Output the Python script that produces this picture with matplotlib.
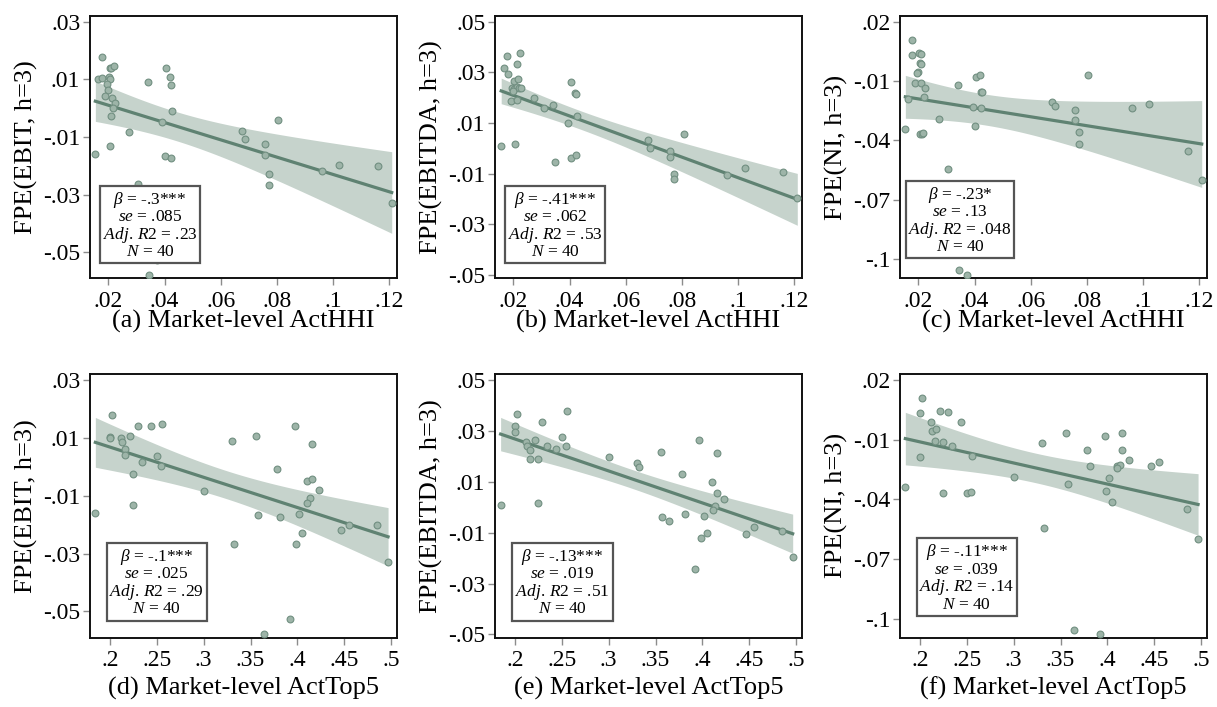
import numpy as np
import matplotlib
matplotlib.use("Agg")
import matplotlib.pyplot as plt
from matplotlib.patches import Rectangle

plt.rcParams["font.family"] = ["Liberation Serif", "DejaVu Serif"]
plt.rcParams["mathtext.fontset"] = "custom"
plt.rcParams["mathtext.rm"] = "Liberation Serif"
plt.rcParams["mathtext.it"] = "Liberation Serif:italic"

# market-level concentration vs. forecast errors (40 markets)
ebit_hhi_x = [0.0176, 0.0164, 0.0177, 0.0206, 0.0211, 0.0221, 0.0202, 0.0206, 0.0194, 0.0199,
              0.0188, 0.0214, 0.0224, 0.0218, 0.0209, 0.0205, 0.0154, 0.0272, 0.0340, 0.0306,
              0.0346, 0.0404, 0.0418, 0.0422, 0.0425, 0.0392, 0.0402, 0.0423, 0.0677, 0.0686,
              0.0804, 0.0758, 0.0758, 0.0771, 0.0771, 0.0960, 0.1022, 0.1158, 0.1208, 0.0373]
ebit_hhi_y = [0.0179, 0.0101, 0.0105, 0.0139, 0.0140, 0.0146, 0.0107, 0.0100, 0.0085, 0.0063,
              0.0041, 0.0036, 0.0017, 0.0002, -0.0026, -0.0131, -0.0159, -0.0082, 0.0092, -0.0263,
              -0.0579, 0.0140, 0.0108, 0.0080, -0.0009, -0.0049, -0.0167, -0.0172, -0.0079, -0.0107,
              -0.0041, -0.0125, -0.0163, -0.0229, -0.0267, -0.0219, -0.0199, -0.0200, -0.0328, -0.0527]

ebitda_hhi_x = [0.0157, 0.0167, 0.0179, 0.0180, 0.0224, 0.0212, 0.0204, 0.0218, 0.0195, 0.0204,
                0.0214, 0.0221, 0.0227, 0.0200, 0.0192, 0.0213, 0.0207, 0.0275, 0.0309, 0.0343,
                0.0349, 0.0395, 0.0406, 0.0420, 0.0424, 0.0427, 0.0404, 0.0424, 0.0679, 0.0688,
                0.0807, 0.0759, 0.0759, 0.0772, 0.0773, 0.0961, 0.1023, 0.1159, 0.1210, 0.0373]
ebitda_hhi_y = [0.0009, 0.0318, 0.0366, 0.0293, 0.0378, 0.0334, 0.0266, 0.0275, 0.0239, 0.0233,
                0.0241, 0.0238, 0.0238, 0.0228, 0.0188, 0.0191, 0.0017, 0.0199, 0.0158, 0.0172,
                -0.0053, 0.0099, 0.0261, 0.0220, 0.0213, 0.0129, -0.0038, -0.0028, 0.0033, 0.0001,
                0.0055, -0.0011, -0.0034, -0.0100, -0.0121, -0.0104, -0.0078, -0.0093, -0.0195, -0.0243]

ni_hhi_x = [0.0176, 0.0177, 0.0201, 0.0209, 0.0205, 0.0208, 0.0200, 0.0194, 0.0189, 0.0211,
            0.0224, 0.0221, 0.0164, 0.0154, 0.0206, 0.0213, 0.0218, 0.0272, 0.0340, 0.0307,
            0.0346, 0.0373, 0.0404, 0.0419, 0.0422, 0.0427, 0.0393, 0.0423, 0.0403, 0.0677,
            0.0686, 0.0804, 0.0758, 0.0758, 0.0772, 0.0771, 0.0960, 0.1022, 0.1158, 0.1208]
ni_hhi_y = [0.0109, 0.0032, 0.0042, 0.0038, -0.0010, -0.0014, -0.0052, -0.0061, -0.0108, -0.0111,
            -0.0135, -0.0182, -0.0189, -0.0340, -0.0369, -0.0367, -0.0364, -0.0291, -0.0120, -0.0544,
            -0.1054, -0.1079, -0.0081, -0.0069, -0.0153, -0.0155, -0.0233, -0.0236, -0.0325, -0.0204,
            -0.0227, -0.0068, -0.0248, -0.0295, -0.0359, -0.0416, -0.0236, -0.0216, -0.0451, -0.0599]

ebit_top5_x = [0.1844, 0.2025, 0.2000, 0.2000, 0.2114, 0.2128, 0.2213, 0.2163, 0.2156, 0.2295,
               0.2437, 0.2554, 0.2497, 0.2337, 0.2241, 0.2547, 0.2241, 0.3005, 0.3299, 0.3321,
               0.3562, 0.3576, 0.3640, 0.3782, 0.3810, 0.3917, 0.3970, 0.3988, 0.4020, 0.4048,
               0.4102, 0.4155, 0.4155, 0.4130, 0.4105, 0.4233, 0.4467, 0.4549, 0.4854, 0.4968]
ebit_top5_y = [-0.0159, 0.0178, 0.0104, 0.0101, 0.0099, 0.0087, 0.0108, 0.0063, 0.0041, 0.0142,
               0.0140, 0.0147, 0.0037, 0.0017, -0.0026, 0.0002, -0.0131, -0.0083, 0.0091, -0.0266,
               0.0108, -0.0167, -0.0579, -0.0007, -0.0172, -0.0527, 0.0141, -0.0267, -0.0163, -0.0229,
               -0.0049, -0.0041, 0.0080, -0.0107, -0.0124, -0.0079, -0.0219, -0.0200, -0.0201, -0.0328]

ebitda_top5_x = [0.1847, 0.2025, 0.2000, 0.2000, 0.2114, 0.2124, 0.2163, 0.2213, 0.2156, 0.2291,
                 0.2337, 0.2245, 0.2241, 0.2437, 0.2497, 0.2547, 0.2554, 0.3005, 0.3298, 0.3320,
                 0.3560, 0.3571, 0.3639, 0.3782, 0.3810, 0.3917, 0.3967, 0.3984, 0.4020, 0.4048,
                 0.4102, 0.4151, 0.4151, 0.4133, 0.4109, 0.4233, 0.4464, 0.4549, 0.4851, 0.4964]
ebitda_top5_y = [0.0009, 0.0368, 0.0321, 0.0294, 0.0256, 0.0239, 0.0227, 0.0266, 0.0190, 0.0335,
                 0.0239, 0.0191, 0.0017, 0.0230, 0.0277, 0.0240, 0.0380, 0.0199, 0.0174, 0.0158,
                 0.0219, -0.0038, -0.0054, 0.0129, -0.0028, -0.0243, 0.0263, -0.0120, -0.0033, -0.0102,
                 0.0099, 0.0055, 0.0214, 0.0003, -0.0011, 0.0033, -0.0104, -0.0078, -0.0094, -0.0194]

ni_top5_x = [0.1844, 0.2025, 0.2000, 0.2000, 0.2114, 0.2128, 0.2167, 0.2213, 0.2156, 0.2295,
             0.2241, 0.2241, 0.2337, 0.2437, 0.2497, 0.2547, 0.2554, 0.3005, 0.3299, 0.3321,
             0.3562, 0.3576, 0.3640, 0.3782, 0.3810, 0.3917, 0.3970, 0.3988, 0.4020, 0.4048,
             0.4102, 0.4130, 0.4155, 0.4155, 0.4105, 0.4233, 0.4467, 0.4549, 0.4854, 0.4968]
ni_top5_y = [-0.0339, 0.0111, 0.0033, -0.0188, -0.0009, -0.0058, -0.0049, 0.0043, -0.0105, 0.0040,
             -0.0110, -0.0368, -0.0134, -0.0012, -0.0370, -0.0365, -0.0183, -0.0290, -0.0119, -0.0543,
             -0.0068, -0.0324, -0.1056, -0.0152, -0.0235, -0.1078, -0.0080, -0.0358, -0.0294, -0.0415,
             -0.0231, -0.0226, -0.0066, -0.0154, -0.0245, -0.0203, -0.0235, -0.0213, -0.0451, -0.0599]

# regression stats printed in each panel
betas = ["-.3***", "-.41***", "-.23*", "-.1***", "-.13***", "-.11***"]
ses = [".085", ".062", ".13", ".025", ".019", ".039"]
adj_r2 = [".23", ".53", ".048", ".29", ".51", ".14"]
n_obs = [40, 40, 40, 40, 40, 40]

ylabels = ["FPE(EBIT, h=3)", "FPE(EBITDA, h=3)", "FPE(NI, h=3)"]
captions = ["(a) Market-level ActHHI", "(b) Market-level ActHHI", "(c) Market-level ActHHI",
            "(d) Market-level ActTop5", "(e) Market-level ActTop5", "(f) Market-level ActTop5"]
hhi_ticks = [0.02, 0.04, 0.06, 0.08, 0.1, 0.12]
top5_ticks = [0.2, 0.25, 0.3, 0.35, 0.4, 0.45, 0.5]
ebit_ticks = [0.03, 0.01, -0.01, -0.03, -0.05]
ebitda_ticks = [0.05, 0.03, 0.01, -0.01, -0.03, -0.05]
ni_ticks = [0.02, -0.01, -0.04, -0.07, -0.1]

xs = [ebit_hhi_x, ebitda_hhi_x, ni_hhi_x, ebit_top5_x, ebitda_top5_x, ni_top5_x]
ys = [ebit_hhi_y, ebitda_hhi_y, ni_hhi_y, ebit_top5_y, ebitda_top5_y, ni_top5_y]
yticks = [ebit_ticks, ebitda_ticks, ni_ticks] * 2
xticks = [hhi_ticks] * 3 + [top5_ticks] * 3
ylims = [(-0.0591, 0.0321), (-0.0513, 0.0524), (-0.1096, 0.0230)] * 2
xlims = [(0.0135, 0.1225)] * 3 + [(0.1787, 0.5058)] * 3
box_x = [0.033, 0.033, 0.019, 0.054, 0.054, 0.054]
box_w = [0.327, 0.327, 0.354, 0.327, 0.330, 0.327]
box_y = [0.057, 0.057, 0.076, 0.065, 0.065, 0.082]
box_h = 0.295

pt_face = "#9db4a8"
pt_edge = "#718f81"
line_col = "#5f8272"
band_col = "#c6d3cc"
T_CRIT = 2.0244  # t(0.975, df=38)

W, H = 1217, 707
fig = plt.figure(figsize=(W / 100, H / 100), dpi=100)


def tick_fmt(v):
    s = f"{v:g}"
    return s.replace("0.", ".")


lefts = [90, 495, 900]
tops = [15.7, 374]
heights = [262.6, 263.7]
aw = 306.5

for i in range(6):
    row, col = divmod(i, 3)
    l, t, h = lefts[col], tops[row], heights[row]
    ax = fig.add_axes([l / W, (H - t - h) / H, aw / W, h / H])

    x = np.array(xs[i])
    y = np.array(ys[i])
    n = len(x)
    b, a = np.polyfit(x, y, 1)
    resid = y - (a + b * x)
    s = np.sqrt(np.sum(resid ** 2) / (n - 2))
    sxx = np.sum((x - x.mean()) ** 2)
    xg = np.linspace(x.min(), x.max(), 200)
    fit = a + b * xg
    half = T_CRIT * s * np.sqrt(1 / n + (xg - x.mean()) ** 2 / sxx)

    ax.fill_between(xg, fit - half, fit + half, color=band_col, lw=0, zorder=1)
    ax.plot(xg, fit, color=line_col, lw=2.3, zorder=2)
    ax.scatter(x, y, s=24, facecolor=pt_face, edgecolor=pt_edge, linewidth=0.8, zorder=3)

    ax.set_xlim(*xlims[i])
    ax.set_ylim(*ylims[i])
    ax.set_xticks(xticks[i])
    ax.set_xticklabels([tick_fmt(v) for v in xticks[i]])
    ax.set_yticks(yticks[i])
    ax.set_yticklabels([tick_fmt(v) for v in yticks[i]])
    ax.tick_params(length=5, width=1, color="#8c8c8c", labelsize=17)
    ax.tick_params(axis="x", pad=4)
    ax.tick_params(axis="y", pad=2)
    for sp in ax.spines.values():
        sp.set_linewidth(1.4)
        sp.set_color("#111111")

    # stats box
    ax.add_patch(Rectangle((box_x[i], box_y[i]), box_w[i], box_h, transform=ax.transAxes,
                           facecolor="white", edgecolor="#555555", lw=1.6, zorder=5))
    cx = box_x[i] + box_w[i] / 2
    lines = [rf"$\beta$ = {betas[i]}",
             rf"$\mathit{{se}}$ = {ses[i]}",
             rf"$\mathit{{Adj.\,R2}}$ = {adj_r2[i]}",
             rf"$N$ = {n_obs[i]}"]
    for k, txt in enumerate(lines):
        yy = box_y[i] + box_h * (0.82 - 0.225 * k)
        ax.text(cx, yy, txt, transform=ax.transAxes, ha="center", va="center",
                fontsize=12.5, zorder=6)

    # y label and caption
    fig.text((l - 64) / W, 1 - (t + h / 2) / H, ylabels[col], rotation=90,
             ha="center", va="center", fontsize=19)
    cap_y = [321, 688][row]
    fig.text((l + aw / 2) / W, 1 - cap_y / H, captions[i], ha="center", va="center",
             fontsize=19)

fig.savefig("out.png", dpi=100)
